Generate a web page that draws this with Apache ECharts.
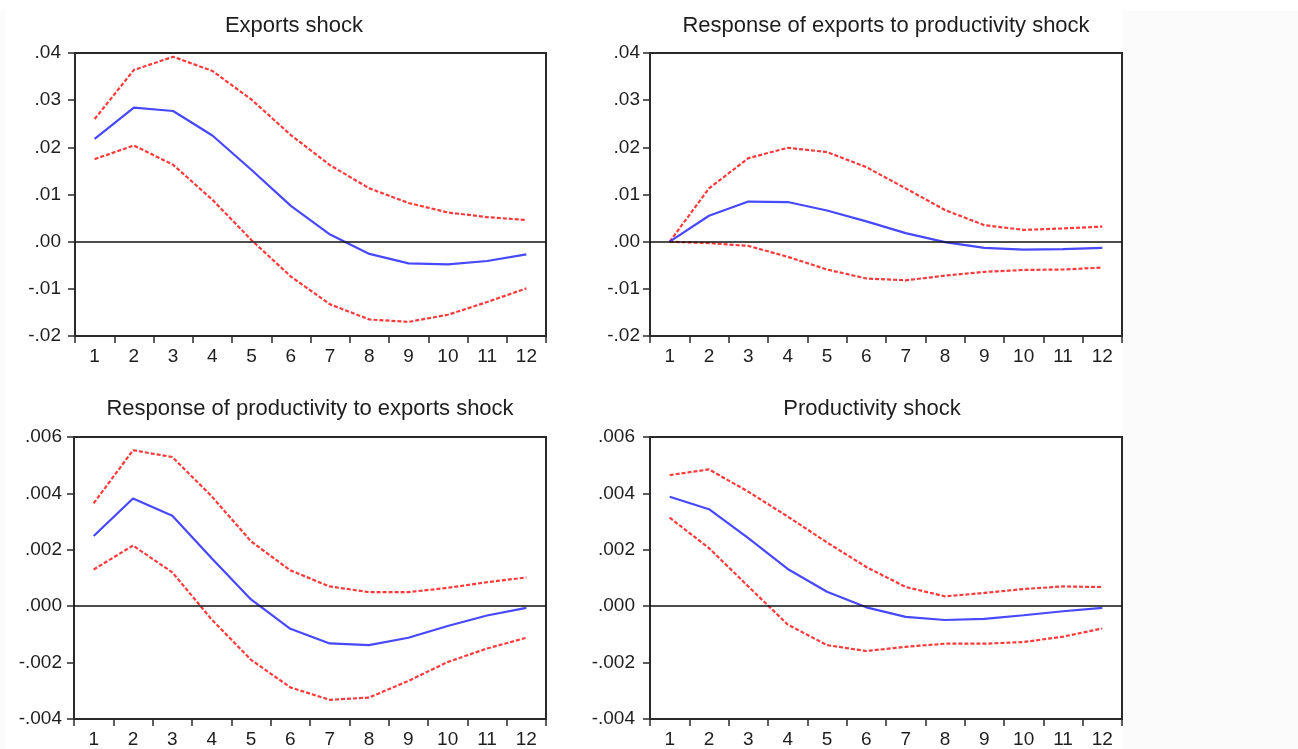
<!DOCTYPE html>
<html><head><meta charset="utf-8">
<script src="https://cdn.jsdelivr.net/npm/echarts@6/dist/echarts.min.js"></script>
<style>html,body{margin:0;padding:0;background:#fff}#c{width:1298px;height:749px}</style>
</head><body><div id="c"></div>
<script>
// ---------- data ----------
const periods = ['1','2','3','4','5','6','7','8','9','10','11','12'];
const panelTitles = ['Exports shock', 'Response of exports to productivity shock',
                     'Response of productivity to exports shock', 'Productivity shock'];
const yTicksExports = ['-.02','-.01','.00','.01','.02','.03','.04'];
const yTicksProd = ['-.004','-.002','.000','.002','.004','.006'];

// Panel 1: Exports shock
const p1Mid   = [0.0218, 0.0284, 0.0277, 0.0225, 0.0152, 0.0076, 0.0015, -0.0026, -0.0046, -0.0048, -0.0041, -0.0027];
const p1Upper = [0.0260, 0.0364, 0.0392, 0.0362, 0.0301, 0.0226, 0.0162, 0.0113, 0.0082, 0.0062, 0.0052, 0.0046];
const p1Lower = [0.0175, 0.0204, 0.0163, 0.0089, 0.0003, -0.0074, -0.0133, -0.0165, -0.0170, -0.0155, -0.0128, -0.0099];
// Panel 2: Response of exports to productivity shock
const p2Mid   = [0.0000, 0.0055, 0.0085, 0.0084, 0.0066, 0.0043, 0.0018, -0.0001, -0.0013, -0.0017, -0.0016, -0.0013];
const p2Upper = [0.0000, 0.0113, 0.0177, 0.0199, 0.0190, 0.0158, 0.0113, 0.0067, 0.0035, 0.0025, 0.0028, 0.0032];
const p2Lower = [0.0000, -0.0003, -0.0009, -0.0032, -0.0059, -0.0078, -0.0082, -0.0072, -0.0064, -0.0060, -0.0059, -0.0055];
// Panel 3: Response of productivity to exports shock
const p3Mid   = [0.00249, 0.00382, 0.00321, 0.00170, 0.00024, -0.00080, -0.00132, -0.00138, -0.00112, -0.00070, -0.00033, -0.00006];
const p3Upper = [0.00365, 0.00553, 0.00529, 0.00390, 0.00230, 0.00127, 0.00070, 0.00050, 0.00050, 0.00065, 0.00085, 0.00102];
const p3Lower = [0.00130, 0.00215, 0.00120, -0.00047, -0.00190, -0.00288, -0.00332, -0.00324, -0.00265, -0.00198, -0.00150, -0.00112];
// Panel 4: Productivity shock
const p4Mid   = [0.00388, 0.00344, 0.00241, 0.00132, 0.00051, -0.00004, -0.00038, -0.00049, -0.00045, -0.00032, -0.00018, -0.00006];
const p4Upper = [0.00465, 0.00485, 0.00406, 0.00318, 0.00226, 0.00139, 0.00068, 0.00035, 0.00047, 0.00061, 0.00070, 0.00068];
const p4Lower = [0.00314, 0.00206, 0.00070, -0.00065, -0.00138, -0.00159, -0.00144, -0.00133, -0.00133, -0.00127, -0.00108, -0.00079];

// ---------- layout / style ----------
const FONT = 'Liberation Sans, Arial, sans-serif';
const grids = [
  {left: 75,  top: 53,  width: 471, height: 283},
  {left: 650, top: 53,  width: 472, height: 283},
  {left: 74,  top: 437, width: 472, height: 283},
  {left: 650, top: 437, width: 472, height: 283}
];
const titlePos = [[294, 26], [886, 26], [310, 409], [872, 409]];
const yLabelMargin = [14, 10, 12, 15];
const panels = [
  {mid: p1Mid, up: p1Upper, lo: p1Lower, min: -0.02, max: 0.04, step: 0.01, ticks: yTicksExports},
  {mid: p2Mid, up: p2Upper, lo: p2Lower, min: -0.02, max: 0.04, step: 0.01, ticks: yTicksExports},
  {mid: p3Mid, up: p3Upper, lo: p3Lower, min: -0.004, max: 0.006, step: 0.002, ticks: yTicksProd},
  {mid: p4Mid, up: p4Upper, lo: p4Lower, min: -0.004, max: 0.006, step: 0.002, ticks: yTicksProd}
];
const BLUE = '#4848ff', RED = '#ff3a3a', AX = '#2a2a2a';

const option = {
  backgroundColor: '#ffffff',
  animation: false,
  graphic: [
    {type: 'rect', shape: {x: 1123, y: 11, width: 175, height: 738}, style: {fill: '#fbfbfb'}, silent: true, z: -10},
    {type: 'rect', shape: {x: 0, y: 11, width: 5, height: 738}, style: {fill: '#fbfbfb'}, silent: true, z: -10}
  ].concat(panelTitles.map((t, i) => ({
    type: 'text', x: titlePos[i][0], y: titlePos[i][1], silent: true,
    style: {text: t, font: '22px ' + FONT, fill: '#1e1e1e', align: 'center', verticalAlign: 'middle'}
  }))),
  grid: grids.map(g => Object.assign({show: true, borderColor: AX, borderWidth: 2, backgroundColor: 'transparent'}, g)),
  xAxis: panels.map((p, i) => ({
    type: 'category', gridIndex: i, data: periods, boundaryGap: true,
    axisLine: {show: true, onZero: false, lineStyle: {color: AX, width: 2}},
    axisTick: {show: true, length: 7, alignWithLabel: false, interval: 0, lineStyle: {color: AX, width: 1.5}},
    axisLabel: {interval: 0, fontSize: 19, fontFamily: FONT, color: '#1e1e1e', margin: 11},
    splitLine: {show: false}
  })),
  yAxis: panels.map((p, i) => ({
    type: 'value', gridIndex: i, min: p.min, max: p.max, interval: p.step,
    axisLine: {show: true, onZero: false, lineStyle: {color: AX, width: 2}},
    axisTick: {show: true, length: 7, lineStyle: {color: AX, width: 1.5}},
    axisLabel: {fontSize: 19, fontFamily: FONT, color: '#1e1e1e', margin: yLabelMargin[i],
      formatter: v => p.ticks[Math.round((v - p.min) / p.step)]},
    splitLine: {show: false}
  })),
  series: []
};
panels.forEach((p, i) => {
  const base = {type: 'line', xAxisIndex: i, yAxisIndex: i, symbol: 'none', silent: true};
  option.series.push(Object.assign({}, base, {data: p.lo, lineStyle: {color: RED, width: 2.2, type: [4, 2]}, z: 3}));
  option.series.push(Object.assign({}, base, {data: p.up, lineStyle: {color: RED, width: 2.2, type: [4, 2]}, z: 3}));
  option.series.push(Object.assign({}, base, {data: p.mid, lineStyle: {color: BLUE, width: 2.2}, z: 4,
    markLine: {silent: true, symbol: 'none', label: {show: false},
      lineStyle: {color: '#111', width: 1.5, type: 'solid'}, data: [{yAxis: 0}]}}));
});
const chart = echarts.init(document.getElementById('c'), null, {renderer: 'canvas'});
chart.setOption(option);
</script>
</body></html>
